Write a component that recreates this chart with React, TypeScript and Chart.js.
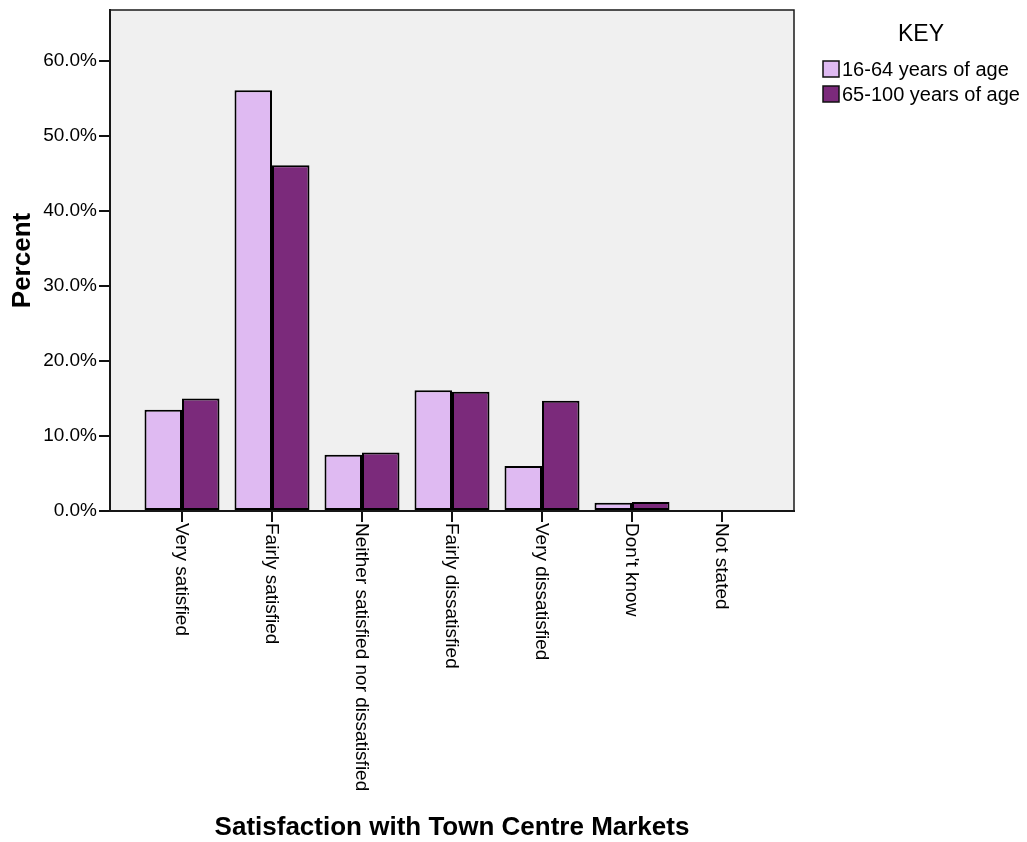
import React, { useEffect, useRef } from "react";
import { Chart, registerables } from "chart.js";

Chart.register(...registerables);

const categories = [
  "Very satisfied",
  "Fairly satisfied",
  "Neither satisfied nor dissatisfied",
  "Fairly dissatisfied",
  "Very dissatisfied",
  "Don't know",
  "Not stated",
];
const seriesNames = ["16-64 years of age", "65-100 years of age"];
const youngValues = [13.5, 56.1, 7.5, 16.1, 6.0, 1.1, 0.0];
const olderValues = [15.0, 46.1, 7.8, 15.9, 14.7, 1.2, 0.0];
const yTickValues = [0, 10, 20, 30, 40, 50, 60];
const xTitle = "Satisfaction with Town Centre Markets";
const yTitle = "Percent";
const legendTitle = "KEY";

const FONT = "'Liberation Sans', Arial, Helvetica, sans-serif";
const COLORS = ["#DFBAF2", "#7B2A7B"];

export default function App() {
  const ref = useRef<HTMLCanvasElement | null>(null);

  useEffect(() => {
    if (!ref.current) return;

    const bgPlugin = {
      id: "bgFrame",
      beforeDraw(chart: any) {
        const { ctx, chartArea: a } = chart;
        ctx.save();
        ctx.fillStyle = "#ffffff";
        ctx.fillRect(0, 0, chart.width, chart.height);
        ctx.fillStyle = "#F0F0F0";
        ctx.fillRect(a.left, a.top, a.right - a.left, a.bottom - a.top);
        ctx.restore();
      },
      afterDatasetsDraw(chart: any) {
        const { ctx, chartArea: a } = chart;
        ctx.save();
        ctx.strokeStyle = "#1a1a1a";
        ctx.lineWidth = 1.5;
        ctx.strokeRect(a.left, a.top, a.right - a.left, a.bottom - a.top);
        ctx.restore();
      },
      afterDraw(chart: any) {
        const { ctx } = chart;
        const xs = chart.scales.x;
        const bottom = chart.chartArea.bottom;
        ctx.save();
        ctx.fillStyle = "#000";
        ctx.font = `19px ${FONT}`;
        ctx.textAlign = "left";
        ctx.textBaseline = "middle";
        categories.forEach((label, i) => {
          const x = xs.getPixelForValue(i);
          ctx.save();
          ctx.translate(x - 1, bottom + 12);
          ctx.rotate(Math.PI / 2);
          ctx.fillText(label, 0, 0);
          ctx.restore();
        });
        // legend
        ctx.font = `23px ${FONT}`;
        ctx.textAlign = "center";
        ctx.fillText(legendTitle, 921, 35);
        ctx.font = `20px ${FONT}`;
        ctx.textAlign = "left";
        chart.data.datasets.forEach((ds: any, i: number) => {
          const y = 61 + i * 25;
          ctx.fillStyle = ds.backgroundColor;
          ctx.fillRect(823, y, 16, 16);
          ctx.strokeStyle = "#111";
          ctx.lineWidth = 1.5;
          ctx.strokeRect(823, y, 16, 16);
          ctx.fillStyle = "#000";
          ctx.fillText(ds.label, 842, y + 9);
        });
        ctx.restore();
      },
    };

    const chart = new Chart(ref.current, {
      type: "bar",
      data: {
        datasets: [youngValues, olderValues].map((vals, d) => ({
          label: seriesNames[d],
          data: vals.map((v, i) => ({ x: i, y: v })),
          backgroundColor: COLORS[d],
          borderColor: "#000000",
          borderWidth: 2,
          borderSkipped: false,
          categoryPercentage: 0.833,
          barPercentage: 1.0,
        })),
      },
      options: {
        responsive: false,
        animation: false,
        events: [],
        layout: { padding: { left: 0, top: 10, right: 233, bottom: 0 } },
        plugins: {
          legend: { display: false },
          tooltip: { enabled: false },
          title: { display: false },
        },
        scales: {
          x: {
            type: "linear",
            min: -0.8,
            max: 6.8,
            offset: false,
            afterFit: (s: any) => {
              s.height = 842 - 511;
              s.paddingLeft = 0;
              s.paddingRight = 0;
            },
            afterBuildTicks: (s: any) => {
              s.ticks = categories.map((_, i) => ({ value: i }));
            },
            ticks: { display: false, includeBounds: false, stepSize: 1 },
            grid: {
              display: true,
              drawOnChartArea: false,
              drawTicks: true,
              tickLength: 11,
              color: "#111",
              lineWidth: 2,
              offset: false,
            },
            border: { display: true, color: "#111", width: 2 },
            title: {
              display: true,
              text: xTitle,
              color: "#000",
              font: { family: FONT, size: 26, weight: "bold", lineHeight: 1 },
              padding: { top: 0, bottom: 1 },
            },
          },
          y: {
            type: "linear",
            min: 0,
            max: 66.8,
            afterFit: (s: any) => {
              s.width = 110;
              s.paddingTop = 0;
              s.paddingBottom = 0;
            },
            afterBuildTicks: (s: any) => {
              s.ticks = yTickValues.map((v) => ({ value: v }));
            },
            ticks: {
              includeBounds: false,
              stepSize: 10,
              padding: 2,
              color: "#000",
              font: { family: FONT, size: 19 },
              callback: (v: any) => Number(v).toFixed(1) + "%",
            },
            grid: {
              display: true,
              drawOnChartArea: false,
              drawTicks: true,
              tickLength: 11,
              color: "#111",
              lineWidth: 2,
            },
            border: { display: true, color: "#111", width: 2 },
            title: {
              display: true,
              text: yTitle,
              color: "#000",
              font: { family: FONT, size: 26, weight: "bold" },
              padding: { top: 7, bottom: 0 },
            },
          },
        },
      },
      plugins: [bgPlugin],
    } as any);

    return () => chart.destroy();
  }, []);

  return (
    <canvas
      ref={ref}
      width={1027}
      height={842}
      style={{ position: "absolute", left: 0, top: 0, display: "block" }}
    />
  );
}
